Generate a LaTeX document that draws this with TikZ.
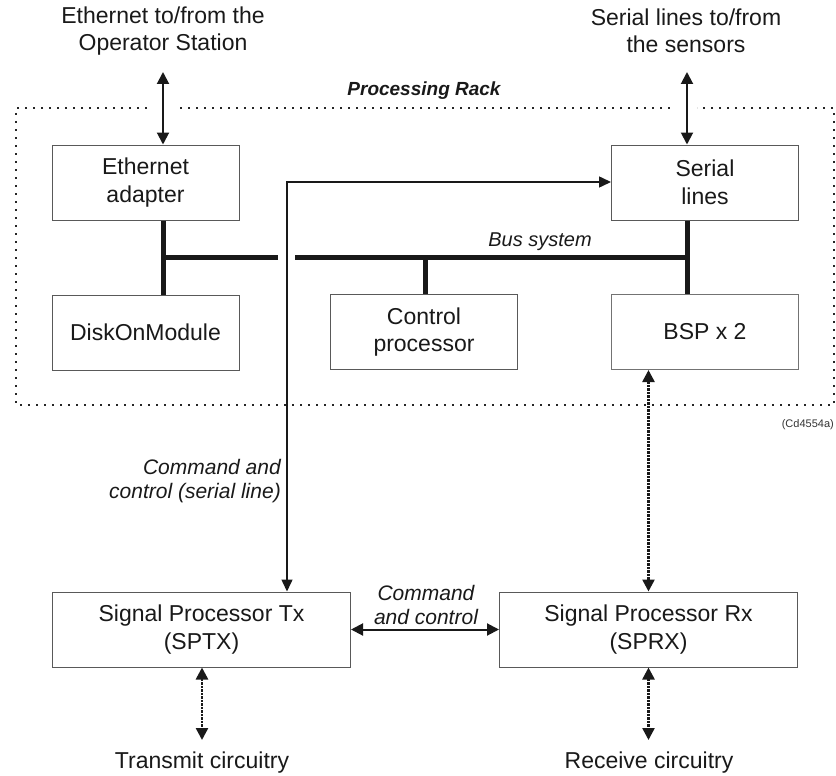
\documentclass[tikz,border=0pt]{standalone}
\usepackage{fontspec}
\setmainfont{Liberation Sans}
\usetikzlibrary{arrows.meta,calc}
\begin{document}
\begin{tikzpicture}[x=1pt,y=-1pt,
  txt/.style={font=\fontsize{23}{27.5}\selectfont, align=center, inner sep=0pt, text=black!90},
  itl/.style={font=\fontsize{20}{25}\selectfont\itshape, inner sep=0pt, text=black!90},
  blk/.style={draw=black!65, line width=1pt, fill=white, minimum width=187pt, minimum height=75pt,
              inner sep=0pt, align=center, font=\fontsize{23}{27.5}\selectfont, text=black!90},
  wide/.style={blk, minimum width=298pt},
  rack/.style={line width=2pt, dash pattern=on 2pt off 6pt, black!85},
  bus/.style={line width=5pt, black!90},
  dbl/.style={line width=2pt, black!90, {Triangle[length=12pt,width=12pt]}-{Triangle[length=12pt,width=12pt]}},
  cmd/.style={line width=1.5pt, black!90, {Triangle[length=12pt,width=11pt]}-{Triangle[length=12pt,width=11pt]}},
  dotarr/.style={line width=2.5pt, black!90, dash pattern=on 2.5pt off 1pt,
                 {Triangle[length=12pt,width=12pt]}-{Triangle[length=12pt,width=12pt]}}
]
\useasboundingbox (0,0) rectangle (836,776);

% rack outline
\draw[rack] (147,108) -- (16,108) -- (16,405) -- (834,405) -- (834,108) -- (697,108);
\draw[rack] (180,108) -- (673,108);
\node[font=\fontsize{19}{23}\selectfont\bfseries\itshape, inner sep=0pt, text=black!90] (racklbl) at (424,91) {Processing Rack};
\node[font=\fontsize{11}{13}\selectfont, inner sep=0pt, text=black!80, anchor=east] (cd) at (834,425) {(Cd4554a)};

% top labels
\node[txt] (ethtop) at (163,31) {Ethernet to/from the\\Operator Station};
\node[txt] (sertop) at (686,31) {Serial lines to/from\\the sensors};

% boxes
\node[blk] (eth) at (145.5,182.5) {Ethernet\\adapter};
\node[blk] (ser) at (705,182.5) {Serial\\lines};
\node[blk] (disk) at (145.5,332.5) {DiskOnModule};
\node[blk] (ctrl) at (424,332) {Control\\processor};
\node[blk, draw=black!55] (bsp) at (705,332) {BSP x 2};
\node[wide] (tx) at (201.5,629.5) {Signal Processor Tx\\(SPTX)};
\node[wide] (rx) at (648.5,629.5) {Signal Processor Rx\\(SPRX)};

% bottom labels
\node[txt] (txc) at (202,763) {Transmit circuitry};
\node[txt] (rxc) at (649,763) {Receive circuitry};

% coordinates
\coordinate (ea) at (163,72);
\coordinate (sa) at (687,72);
\coordinate (busL) at (163,257);
\coordinate (busR) at (687,257);
\coordinate (gapL) at (278,257);
\coordinate (gapR) at (295,257);
\coordinate (busC) at (425,257);
\coordinate (cc) at (287,182);
\coordinate (tb) at (202,740);
\coordinate (rb) at (648.5,740);

% bus system
\draw[bus] (eth.south -| busL) -- (disk.north -| busL);
\draw[bus] (ser.south -| busR) -- (bsp.north -| busR);
\draw[bus] (busL) -- (gapL);
\draw[bus] (gapR) -- (busR);
\draw[bus] (busC) -- (ctrl.north -| busC);
\node[itl] (buslbl) at (540,242) {Bus system};

% external links
\draw[dbl] (ea) -- (ea |- eth.north);
\draw[dbl] (sa) -- (sa |- ser.north);

% command and control (serial line)
\draw[cmd] (cc |- tx.north) -- (cc) -- (cc -| ser.west);
\node[itl, anchor=east, align=right, font=\fontsize{21}{24.5}\selectfont\itshape] (cmdlbl) at (281,481) {Command and\\control (serial line)};

% Tx <-> Rx
\draw[dbl] (tx.east) -- (rx.west);
\node[itl, align=center, font=\fontsize{21}{24}\selectfont\itshape] (cclbl) at (426,605) {Command\\and control};

% dotted links
\draw[dotarr] (bsp.south -| rx.north) -- (rx.north);
\draw[dotarr] (tx.south -| tb) -- (tb);
\draw[dotarr] (rx.south -| rb) -- (rb);
\end{tikzpicture}
\end{document}
